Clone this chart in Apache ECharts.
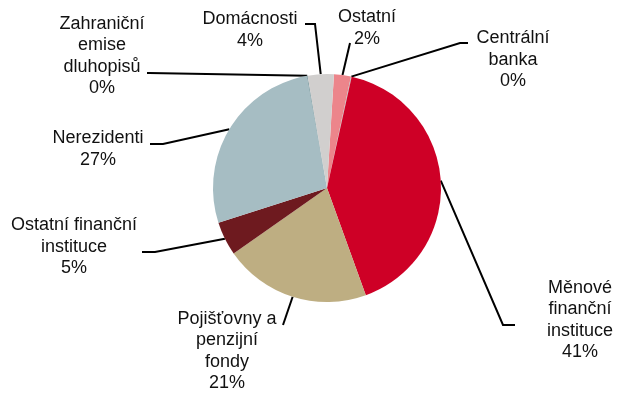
<!DOCTYPE html>
<html>
<head>
<meta charset="utf-8">
<script src="https://cdn.jsdelivr.net/npm/echarts@6/dist/echarts.min.js"></script>
<style>
  html, body { margin: 0; padding: 0; background: #fff; }
  #chart { width: 617px; height: 398px; }
</style>
</head>
<body>
<div id="chart"></div>
<script>
// Sector shares (%), clockwise from the top
const categories = [
  'Ostatní',
  'Centrální\nbanka',
  'Měnové\nfinanční\ninstituce',
  'Pojišťovny a\npenzijní\nfondy',
  'Ostatní finanční\ninstituce',
  'Nerezidenti',
  'Zahraniční\nemise\ndluhopisů',
  'Domácnosti'
];
const values = [2.4, 0.1, 41.0, 20.8, 4.8, 27.1, 0.1, 3.7];
const colors = ['#EC858B', '#B8B8B8', '#CE0026', '#BEAE82', '#6E1A1F', '#A6BDC3', '#5E858C', '#D1CFCE'];

// Label block centres and leader-line bends / ends
const labelPos = [
  { x: 367, y: 28,  line: [[350, 43], [350, 43]] },
  { x: 513, y: 60,  line: [[460, 43], [468, 43]] },
  { x: 580, y: 320, line: [[503, 325], [515, 325]] },
  { x: 227, y: 351, line: [[283, 325], [283, 325]] },
  { x: 74,  y: 247, line: [[155, 252], [142, 252]] },
  { x: 98,  y: 149, line: [[163, 144], [150, 144]] },
  { x: 102, y: 56,  line: [[149, 73], [147, 73]] },
  { x: 250, y: 30,  line: [[315, 24], [305, 24]] }
];

const chart = echarts.init(document.getElementById('chart'), null, { renderer: 'canvas' });

chart.setOption({
  animation: false,
  backgroundColor: '#ffffff',
  series: [{
    type: 'pie',
    center: [327, 188],
    radius: 114,
    startAngle: 86.5,
    clockwise: true,
    avoidLabelOverlap: false,
    data: categories.map((name, i) => ({
      name: name,
      value: values[i],
      itemStyle: { color: colors[i] }
    })),
    label: {
      show: true,
      position: 'outside',
      fontFamily: 'Liberation Sans, Arial, sans-serif',
      fontSize: 18,
      lineHeight: 21.5,
      color: '#111',
      align: 'center',
      formatter: p => p.name + '\n' + Math.round(p.percent) + '%'
    },
    labelLine: {
      show: true,
      length: 10,
      length2: 10,
      lineStyle: { color: '#000', width: 2 }
    },
    labelLayout: function (params) {
      const pos = labelPos[params.dataIndex];
      const start = params.labelLinePoints ? params.labelLinePoints[0] : pos.line[0];
      return {
        x: pos.x,
        y: pos.y,
        align: 'center',
        verticalAlign: 'middle',
        labelLinePoints: [start, pos.line[0], pos.line[1]]
      };
    }
  }]
});
</script>
</body>
</html>
